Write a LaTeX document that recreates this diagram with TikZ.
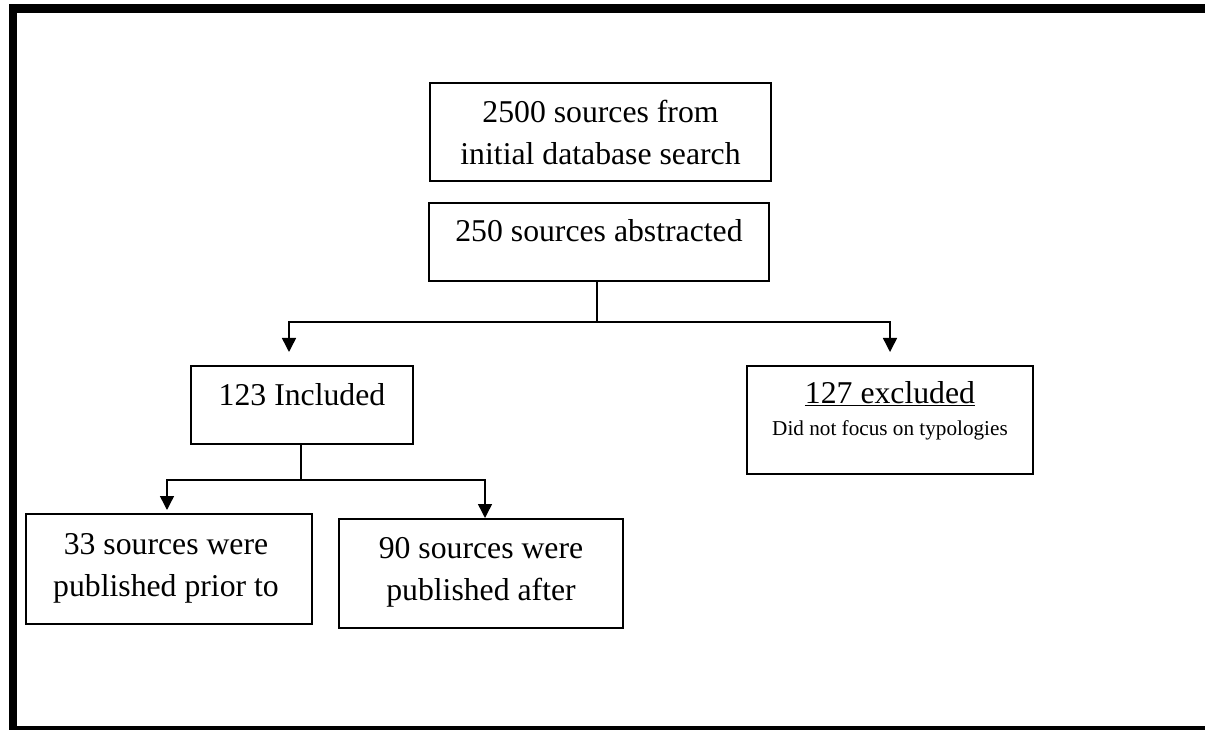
\documentclass[tikz,border=0pt]{standalone}
\usepackage{fontspec}
\setmainfont{Liberation Serif}
\usetikzlibrary{arrows.meta}
\begin{document}
\begin{tikzpicture}[x=0.75pt,y=-0.75pt,
  box/.style={draw, line width=1.1pt, inner sep=0pt, outer sep=0pt},
  txt/.style={inner sep=0pt, anchor=base, align=center, font=\fontsize{23.8pt}{31.5pt}\selectfont},
  smalltxt/.style={inner sep=0pt, anchor=base, align=center, font=\fontsize{15.9pt}{19pt}\selectfont},
  conn/.style={line width=1.1pt},
  arr/.style={line width=1.1pt, -{Triangle[length=10.5pt,width=10.5pt]}}]
\useasboundingbox (0,0) rectangle (1205,730);
\clip (0,0) rectangle (1205,730);
% page frame
\fill (9,4) rectangle (1205,12.7);
\fill (9,4) rectangle (16.7,730);
\fill (9,726) rectangle (1205,730);
% boxes
\node[box, minimum width=255.75pt, minimum height=73.5pt] (b1) at (600.5,132) {};
\node[box, minimum width=255pt, minimum height=58.5pt] (b2) at (599,242) {};
\node[box, minimum width=166.5pt, minimum height=58.5pt] (b3) at (302,405) {};
\node[box, minimum width=214.5pt, minimum height=81pt] (b4) at (890,420) {};
\node[box, minimum width=214.5pt, minimum height=82.5pt] (b5) at (169,569) {};
\node[box, minimum width=213pt, minimum height=81.75pt] (b6) at (481,573.5) {};
% texts
\node[txt] (t1) at (600.5,123) {2500 sources from};
\node[txt] (t1b) at (600.5,165) {initial database search};
\node[txt] (t2) at (599,241.7) {250 sources abstracted};
\node[txt] (t3) at (302,405) {123 Included};
\node[txt] (t4) at (890,403) {\underline{127 excluded}};
\node[smalltxt] (t4b) at (890,435) {Did not focus on typologies};
\node[txt] (t5) at (166,554) {33 sources were};
\node[txt] (t5b) at (166,596) {published prior to};
\node[txt] (t6) at (481,558) {90 sources were};
\node[txt] (t6b) at (481,600) {published after};
% connectors
\coordinate (j1) at (597,322);
\coordinate (e1) at (289,352);
\coordinate (e2) at (890,352);
\draw[conn] (b2.south -| j1) -- (j1);
\draw[arr] (j1) -| (e1);
\draw[arr] (j1) -| (e2);
\coordinate (j2) at (301,480);
\coordinate (e3) at (167,510);
\coordinate (e4) at (485,518);
\draw[conn] (b3.south -| j2) -- (j2);
\draw[arr] (j2) -| (e3);
\draw[arr] (j2) -| (e4);
\end{tikzpicture}
\end{document}
